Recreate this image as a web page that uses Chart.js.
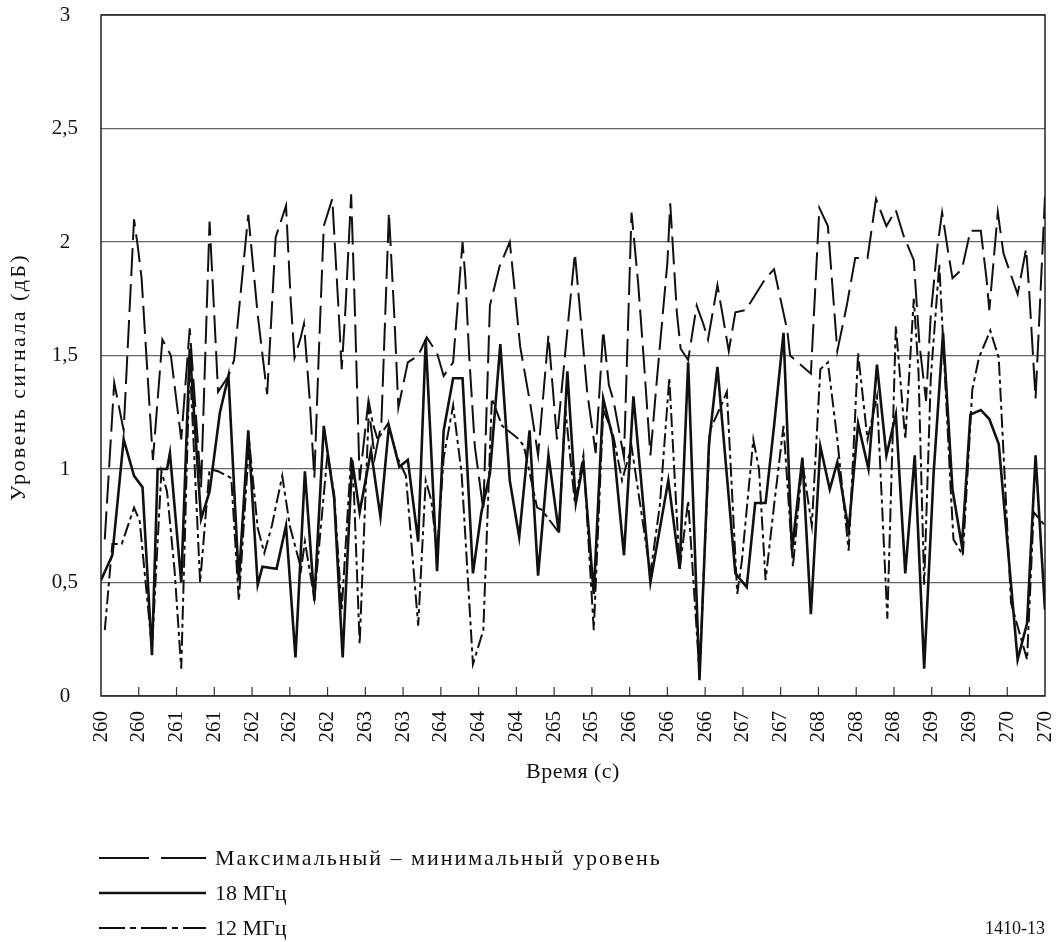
<!DOCTYPE html>
<html><head><meta charset="utf-8">
<script src="https://cdn.jsdelivr.net/npm/chart.js@4"></script>
<style>
html,body{margin:0;padding:0;background:#fff;}
#wrap{position:relative;width:1056px;height:942px;overflow:hidden;background:#fff;}
canvas{position:absolute;left:0;top:0;}
.txt{font-family:'Liberation Serif',serif;color:#111;white-space:nowrap;}
.row{position:absolute;left:99px;height:24px;font-size:22px;line-height:24px;}
.row svg{position:absolute;left:0;top:9px;}
.row span{position:absolute;left:116px;top:0;}
#fig{position:absolute;right:11px;top:916px;font-size:18px;line-height:24px;}
#ytitle{position:absolute;left:18px;top:377px;font-size:22px;letter-spacing:2.4px;transform:translate(-50%,-50%) rotate(-90deg);}
#xtitle{position:absolute;left:573px;top:771px;font-size:22px;letter-spacing:0.5px;transform:translate(-50%,-50%);}
</style></head><body>
<div id="wrap">
<canvas id="c" width="1056" height="942"></canvas>
<div id="ytitle" class="txt">Уровень сигнала (дБ)</div>
<div id="xtitle" class="txt">Время (с)</div>
<div class="row txt" style="top:846px"><svg width="108" height="6"><line x1="0" y1="3" x2="107" y2="3" stroke="#111" stroke-width="2" stroke-dasharray="50 12"/></svg><span style="letter-spacing:2px">Максимальный – минимальный уровень</span></div>
<div class="row txt" style="top:881px"><svg width="108" height="6"><line x1="0" y1="3" x2="107" y2="3" stroke="#111" stroke-width="2.6"/></svg><span>18 МГц</span></div>
<div class="row txt" style="top:916px"><svg width="108" height="6"><line x1="0" y1="3" x2="107" y2="3" stroke="#111" stroke-width="2" stroke-dasharray="26 5 6 5"/></svg><span>12 МГц</span></div>
<div id="fig" class="txt">1410-13</div>
</div>
<script>
// ---- data ----
const timeMaxMin = [260.04,260.14,260.24,260.35,260.39,260.43,260.50,260.55,260.65,260.74,260.85,260.94,261.06,261.15,261.20,261.24,261.35,261.41,261.56,261.66,261.76,261.80,261.85,261.96,262.01,262.05,262.11,262.15,262.21,262.26,262.31,262.36,262.45,262.51,262.55,262.59,262.65,262.69,262.74,262.83,262.90,262.97,263.05,263.11,263.15,263.25,263.36,263.45,263.56,263.63,263.73,263.83,263.86,263.90,263.96,264.05,264.12,264.22,264.33,264.37,264.44,264.55,264.63,264.74,264.83,264.94,265.02,265.08,265.15,265.24,265.32,265.38,265.43,265.54,265.62,265.69,265.75,265.82,265.89,266.00,266.03,266.10,266.14,266.22,266.31,266.38,266.43,266.53,266.58,266.65,266.72,266.83,267.04,267.13,267.27,267.30,267.52,267.61,267.70,267.80,267.90,267.99,268.12,268.21,268.32,268.42,268.50,268.61,268.67,268.74,268.79,268.86,268.91,268.98,269.02,269.12,269.21,269.32,269.38,269.41,269.50,269.56,269.71,269.80,269.83,269.90,270.00];
const valMaxMin = [0.69,1.38,1.17,2.1,1.98,1.84,1.37,1.04,1.57,1.5,1.13,1.62,0.92,2.09,1.68,1.34,1.41,1.48,2.12,1.68,1.33,1.63,2.02,2.16,1.74,1.49,1.57,1.64,1.31,0.96,1.54,2.07,2.19,1.75,1.44,1.71,2.21,1.69,0.95,1.29,1.05,1.2,2.13,1.65,1.27,1.47,1.5,1.58,1.51,1.41,1.47,2.0,1.84,1.5,1.1,0.82,1.72,1.89,2.0,1.84,1.54,1.28,1.06,1.59,1.13,1.61,1.95,1.67,1.34,1.07,1.61,1.37,1.3,1.05,2.13,1.82,1.48,1.06,1.4,1.91,2.17,1.69,1.53,1.48,1.72,1.64,1.57,1.81,1.69,1.52,1.69,1.7,1.84,1.88,1.61,1.5,1.42,2.15,2.07,1.52,1.72,1.93,1.93,2.19,2.07,2.14,2.03,1.92,1.55,1.3,1.68,1.98,2.13,1.94,1.84,1.88,2.05,2.05,1.84,1.7,2.13,1.95,1.77,1.97,1.8,1.31,2.2];

const time18 = [260.00,260.12,260.24,260.35,260.44,260.54,260.60,260.70,260.73,260.85,260.94,261.06,261.15,261.26,261.35,261.46,261.56,261.66,261.71,261.86,261.96,262.06,262.16,262.26,262.36,262.47,262.56,262.66,262.74,262.86,262.96,263.05,263.16,263.25,263.36,263.44,263.56,263.63,263.73,263.83,263.94,264.03,264.12,264.23,264.33,264.43,264.54,264.63,264.74,264.85,264.94,265.03,265.11,265.22,265.32,265.42,265.54,265.64,265.82,266.01,266.13,266.22,266.34,266.44,266.53,266.72,266.84,266.93,267.04,267.13,267.23,267.32,267.43,267.52,267.62,267.72,267.80,267.92,268.02,268.13,268.22,268.32,268.42,268.52,268.62,268.72,268.82,268.92,269.02,269.12,269.21,269.32,269.41,269.51,269.71,269.81,269.90,270.00];
const val18 = [0.51,0.62,1.13,0.97,0.92,0.18,1.0,1.0,1.07,0.5,1.53,0.78,0.9,1.25,1.41,0.51,1.17,0.49,0.57,0.56,0.75,0.17,0.99,0.42,1.19,0.87,0.17,1.04,0.81,1.08,0.79,1.19,1.01,1.04,0.68,1.57,0.55,1.17,1.4,1.4,0.54,0.81,0.98,1.55,0.95,0.7,1.17,0.53,1.06,0.72,1.43,0.85,1.03,0.45,1.31,1.14,0.62,1.32,0.5,0.95,0.56,1.47,0.07,1.11,1.45,0.54,0.48,0.85,0.85,1.19,1.6,0.64,1.05,0.36,1.1,0.91,1.03,0.73,1.2,1.0,1.46,1.06,1.24,0.54,1.06,0.12,0.98,1.6,0.91,0.66,1.24,1.26,1.22,1.11,0.16,0.32,1.06,0.38];

const time12 = [260.04,260.12,260.22,260.35,260.41,260.54,260.64,260.70,260.78,260.85,260.94,261.05,261.15,261.24,261.38,261.46,261.57,261.66,261.73,261.81,261.92,262.00,262.12,262.16,262.26,262.40,262.47,262.55,262.65,262.68,262.74,262.84,262.88,262.93,263.04,263.14,263.23,263.36,263.44,263.50,263.56,263.63,263.73,263.82,263.94,264.05,264.14,264.25,264.43,264.48,264.62,264.67,264.85,264.92,265.02,265.11,265.22,265.32,265.42,265.52,265.62,265.82,265.92,266.02,266.13,266.22,266.34,266.45,266.58,266.63,266.74,266.79,266.91,266.97,267.04,267.13,267.23,267.33,267.43,267.53,267.62,267.70,267.80,267.92,268.02,268.12,268.22,268.33,268.42,268.52,268.61,268.66,268.72,268.79,268.88,269.00,269.03,269.13,269.23,269.30,269.42,269.51,269.64,269.81,269.88,270.00];
const val12 = [0.29,0.67,0.67,0.83,0.77,0.21,0.99,0.9,0.55,0.12,1.48,0.5,1.0,0.99,0.96,0.42,1.12,0.74,0.63,0.75,0.97,0.75,0.56,0.68,0.43,1.07,0.89,0.38,1.06,0.89,0.23,1.29,1.2,1.13,1.2,1.05,0.97,0.31,0.95,0.86,0.63,1.05,1.28,0.98,0.14,0.29,1.31,1.19,1.13,1.1,0.83,0.82,0.72,1.26,0.85,1.06,0.29,1.26,1.16,0.95,1.1,0.54,0.84,1.4,0.56,0.86,0.1,1.17,1.29,1.34,0.45,0.6,1.13,1.0,0.51,0.84,1.19,0.57,1.03,0.75,1.44,1.47,1.13,0.64,1.51,1.13,1.32,0.34,1.63,1.13,1.75,1.43,0.49,1.4,1.9,0.92,0.69,0.62,1.35,1.49,1.61,1.49,0.41,0.16,0.81,0.75];

const xTickValues = [260,260.4,260.8,261.2,261.6,262,262.4,262.8,263.2,263.6,264,264.4,264.8,265.2,265.6,266,266.4,266.8,267.2,267.6,268,268.4,268.8,269.2,269.6,270];
const xTickLabels = ['260','260','261','261','262','262','262','263','263','264','264','264','265','265','266','266','266','267','267','268','268','268','269','269','270','270'];
const yTickValues = [0,0.5,1,1.5,2,2.5,3];
const yTickLabels = ['0','0,5','1','1,5','2','2,5','3'];

const seriesNames = ['Максимальный – минимальный уровень','18 МГц','12 МГц'];
// --------------------------------------

const pts = (t, v) => t.map((x, i) => ({x: x, y: v[i]}));
const FONT = {family: "'Liberation Serif', serif", size: 21};
const INK = '#111';
const AREA = {top: 15, bottom: 696, right: 1045};

const framePlugin = {
  id: 'frame',
  beforeDatasetsDraw(chart) {
    const {ctx, chartArea: a, scales: {x}} = chart;
    ctx.save();
    ctx.lineWidth = 1.2;
    ctx.strokeStyle = '#333';
    x.ticks.forEach(t => {
      const px = x.getPixelForValue(t.value);
      if (px <= a.left + 1 || px >= a.right - 1) return;
      ctx.beginPath();
      ctx.moveTo(px, a.bottom);
      ctx.lineTo(px, a.bottom - 9);
      ctx.stroke();
    });
    ctx.strokeStyle = '#222';
    ctx.lineWidth = 1.5;
    ctx.strokeRect(a.left, a.top, a.right - a.left, a.bottom - a.top);
    ctx.restore();
  }
};

const cfg = {
  type: 'line',
  data: {
    datasets: [
      {label: seriesNames[0], data: pts(timeMaxMin, valMaxMin), borderColor: INK, borderWidth: 2, borderDash: [28, 8], pointRadius: 0, tension: 0, fill: false},
      {label: seriesNames[1], data: pts(time18, val18), borderColor: INK, borderWidth: 2.6, pointRadius: 0, tension: 0, fill: false},
      {label: seriesNames[2], data: pts(time12, val12), borderColor: INK, borderWidth: 2, borderDash: [14, 4, 4, 4], pointRadius: 0, tension: 0, fill: false}
    ]
  },
  options: {
    responsive: false,
    animation: false,
    layout: {padding: {top: 15, right: 11, bottom: 146, left: 0}},
    plugins: {legend: {display: false}, tooltip: {enabled: false}},
    scales: {
      x: {
        type: 'linear', min: 260, max: 270,
        afterBuildTicks: s => { s.ticks = xTickValues.map(v => ({value: v})); },
        afterFit: s => { s.height = 100; s.paddingLeft = 0; s.paddingRight = 0; },
        ticks: {autoSkip: false, minRotation: 90, maxRotation: 90, padding: 15, font: FONT, color: INK,
                callback: (v, i) => xTickLabels[i]},
        grid: {display: false, drawTicks: false},
        border: {display: false},
        title: {display: false}
      },
      y: {
        min: 0, max: 3,
        afterBuildTicks: s => { s.ticks = yTickValues.map(v => ({value: v})); },
        afterFit: s => { s.width = 101; s.paddingTop = 0; s.paddingBottom = 0; },
        ticks: {crossAlign: 'center', padding: 23, font: FONT, color: INK,
                callback: (v, i) => yTickLabels[i]},
        grid: {color: '#666', lineWidth: 1.2, drawTicks: false},
        border: {display: false},
        title: {display: false}
      }
    }
  },
  plugins: [framePlugin]
};

const chart = new Chart(document.getElementById('c'), cfg);
const a = chart.chartArea;
const pad = cfg.options.layout.padding;
const dT = a.top - AREA.top, dB = AREA.bottom - a.bottom, dR = AREA.right - a.right;
if (Math.abs(dT) > 0.5 || Math.abs(dB) > 0.5 || Math.abs(dR) > 0.5) {
  pad.top -= dT; pad.bottom -= dB; pad.right -= dR;
  chart.options.layout.padding = pad;
  chart.update();
}
</script>
</body></html>
